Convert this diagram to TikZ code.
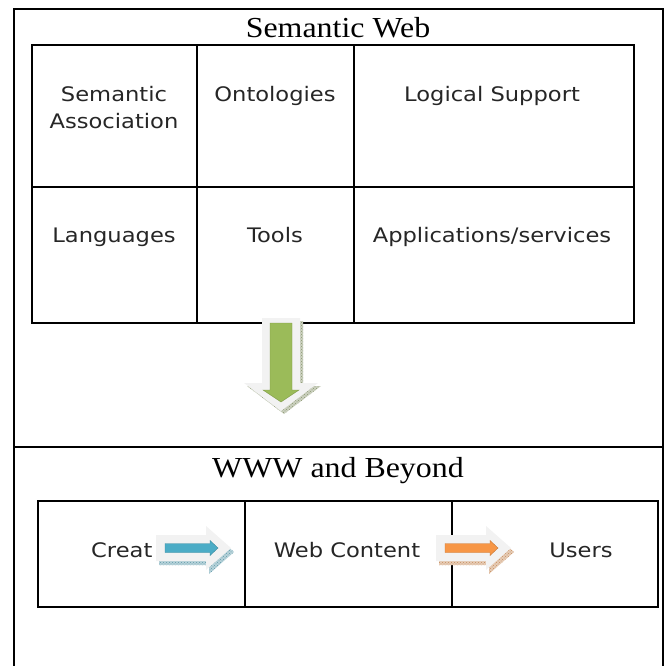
\documentclass[tikz,border=0pt]{standalone}
\usepackage{fontspec}
\usetikzlibrary{patterns}
\newfontfamily\titlefont[FakeStretch=1.1]{Liberation Serif}
\newfontfamily\cellfont[FakeStretch=1.13]{DejaVu Sans}
\definecolor{arrowgray}{HTML}{F2F2F2}
\definecolor{leafgreen}{HTML}{9BBB59}
\definecolor{skyblue}{HTML}{4BACC6}
\definecolor{peach}{HTML}{F79646}
% arrow outlines, origin at the tail
\newcommand{\downshape}{(-19,0) -- (-19,65) -- (-37,65) -- (0,93) -- (37,65) -- (19,65) -- (19,0) -- cycle}
\newcommand{\downcore}{(-11,5) -- (-11,72) -- (-18,72) -- (0,84) -- (18,72) -- (11,72) -- (11,5) -- cycle}
\newcommand{\rightshape}{(0,-13) -- (50,-13) -- (50,-22) -- (75,0) -- (50,22) -- (50,13) -- (0,13) -- cycle}
\newcommand{\rightcore}{(9,-4.5) -- (54,-4.5) -- (54,-7.5) -- (62,0) -- (54,7.5) -- (54,4.5) -- (9,4.5) -- cycle}
\tikzset{
  frame/.style={line width=2.2pt},
  heading/.style={font=\titlefont\fontsize{29}{33}\selectfont, anchor=base},
  entry/.style={font=\cellfont\fontsize{20}{27}\selectfont, text=black!85, align=center, inner sep=0pt, anchor=base},
  shadowfill/.style={preaction={fill=#1!45}, pattern=crosshatch dots, pattern color=#1},
  blockarrow/.style={fill=arrowgray}
}

\begin{document}
\begin{tikzpicture}[x=1pt,y=-1pt]
\useasboundingbox (0,0) rectangle (667,666);
% outer frame
\draw[frame] (14,672) -- (14,9) -- (663,9) -- (663,672);
\draw[frame] (14,447) -- (663,447);
\node[heading] (semweb) at (338,38) {Semantic Web};
\node[heading] (www) at (338,477) {WWW and Beyond};

% upper grid
\draw[frame] (32,45) rectangle (634,323);
\draw[frame] (32,187) -- (634,187);
\draw[frame] (197,45) -- (197,323);
\draw[frame] (354,45) -- (354,323);
\node[entry] (assoc) at (114,129) {Semantic\\Association};
\node[entry] (onto) at (275,102) {Ontologies};
\node[entry] (logic) at (492,102) {Logical Support};
\node[entry] (lang) at (114,242) {Languages};
\node[entry] (tools) at (275,242) {Tools};
\node[entry] (apps) at (492,242) {Applications/services};

% lower grid
\draw[frame] (38,501) rectangle (658,607);
\draw[frame] (245,501) -- (245,607);
\draw[frame] (452,501) -- (452,607);
\node[entry, anchor=base west] (creat) at (91,557) {Creat};
\node[entry] (content) at (347,557) {Web Content};
\node[entry] (users) at (581,557) {Users};

% down arrow
\begin{scope}[shift={(281,318)}]
  \fill[shadowfill=leafgreen!40!gray, shift={(3,3)}] \downshape;
  \fill[blockarrow] \downshape;
  \fill[leafgreen, draw=leafgreen!80!black, line width=0.4pt] \downcore;
\end{scope}

% right arrows
\foreach \x/\c in {156/skyblue, 436/peach}{
  \begin{scope}[shift={(\x,548)}]
    \fill[shadowfill=\c!60!gray, shift={(3,4)}] \rightshape;
    \fill[blockarrow] \rightshape;
    \fill[\c, draw=\c!80!black, line width=0.4pt] \rightcore;
  \end{scope}
}
\end{tikzpicture}
\end{document}
